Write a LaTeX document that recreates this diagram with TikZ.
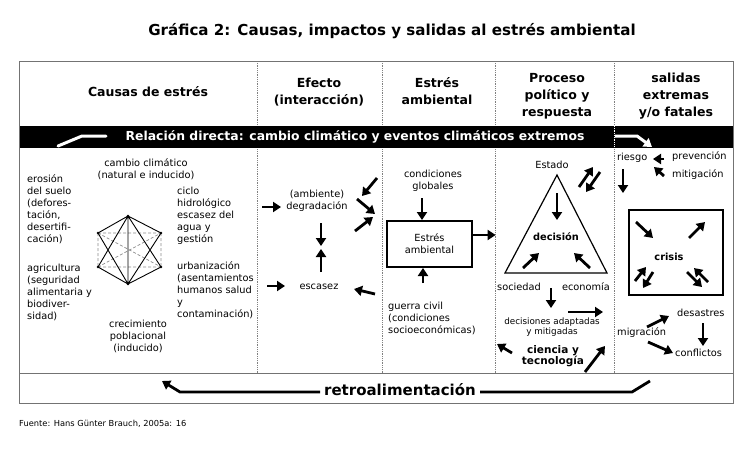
\documentclass[tikz,border=0pt]{standalone}
\usepackage{fontspec}
\setmainfont{DejaVu Sans}
\usetikzlibrary{arrows.meta}

\begin{document}
\begin{tikzpicture}[ >={Triangle[length=8pt,width=10pt]}, x=1pt, y=-1pt,
  flecha/.style={->, line width=2.8pt},
  texto/.style={font=\fontsize{9.8}{12}\selectfont, align=left, inner sep=0pt, anchor=north west},
  centro/.style={texto, align=center, anchor=north},
  suelto/.style={texto, anchor=west},
  negrita/.style={font=\bfseries\fontsize{9.8}{11}\selectfont, align=center, inner sep=0pt},
  encabezado/.style={font=\bfseries\fontsize{12.5}{17}\selectfont, align=center, inner sep=0pt},
  marco/.style={draw=black!55, line width=1pt},
  division/.style={draw=black!50, line width=0.8pt, densely dotted},
  caja/.style={draw, line width=1.2pt} ]

\useasboundingbox (0,0) rectangle (750,448);

\node[font=\bfseries\fontsize{15.1}{17}\selectfont] (titulo) at (392,31) {Gráfica 2: Causas, impactos y salidas al estrés ambiental};

\foreach \x in {257,382,495,614} \draw[division] (\x,61) -- (\x,373);
\fill (19,126) rectangle (733,148);
\draw[white, line width=0.8pt, densely dotted] (614,126) -- (614,148);
\draw[marco] (19,61) rectangle (733,403);
\draw[marco] (19,373) -- (733,373);

\node[encabezado] (causas) at (148,92) {Causas de estrés};
\node[encabezado] (efecto) at (319,92) {Efecto\\(interacción)};
\node[encabezado] (estresh) at (437,91) {Estrés\\ambiental};
\node[encabezado] (proceso) at (557,96) {Proceso\\político y\\respuesta};
\node[encabezado] (salidas) at (676,96) {salidas\\extremas\\y/o fatales};

\node[white, font=\bfseries\fontsize{12.4}{14}\selectfont] (relacion) at (355,137) {Relación directa: cambio climático y eventos climáticos extremos};
\draw[white, line width=3pt, line cap=round] (58,146) -- (82,136) -- (106,136);
\draw[white, line width=3pt, ->] (615,136) -- (637,136) -- (652,147);

\node[centro] (cambio) at (146,158) {cambio climático\\(natural e inducido)};
\node[texto] (erosion) at (27,174) {erosión\\del suelo\\(defores-\\tación,\\desertifi-\\cación)};
\node[texto] (ciclo) at (177,187) {ciclo\\hidrológico\\escasez del\\agua y\\gestión};
\node[texto] (agricultura) at (27,264) {agricultura\\(seguridad\\alimentaria y\\biodiver-\\sidad)};
\node[texto] (urbanizacion) at (177,261) {urbanización\\(asentamientos\\humanos salud\\y\\contaminación)};
\node[centro] (crecimiento) at (138,320) {crecimiento\\poblacional\\(inducido)};

\coordinate (ht) at (128,216);
\coordinate (hur) at (161,233);
\coordinate (hlr) at (161,267);
\coordinate (hb) at (128,284);
\coordinate (hll) at (98,267);
\coordinate (hul) at (98,233);
\draw[black!45, densely dashed, line width=0.7pt] (hul) -- (hll) (hur) -- (hlr) (hul) -- (hur) (hll) -- (hlr) (hul) -- (hlr) (hll) -- (hur);
\draw[line width=0.9pt] (hul) -- (ht) -- (hur) (hll) -- (hb) -- (hlr) (hll) -- (ht) -- (hlr) (hul) -- (hb) -- (hur) (ht) -- (hb);
\foreach \p in {ht,hur,hlr,hb,hll,hul} \fill (\p) circle (1.3pt);

\node[centro] (degradacion) at (317,190) {(ambiente)\\degradación};
\node[suelto, anchor=center] (escasez) at (319,287) {escasez};
\draw[flecha] (262,207) -- (281,207);
\draw[flecha] (321,223) -- (321,246);
\draw[flecha] (321,272) -- (321,249);
\draw[flecha] (267,286) -- (285,286);
\draw[flecha] (375,294) -- (354,289);
\draw[flecha] (377,178) -- (362,196);
\draw[flecha] (357,199) -- (375,214);
\draw[flecha] (355,231) -- (373,217);

\node[centro] (globales) at (433,170) {condiciones\\globales};
\node[caja, minimum width=85pt, minimum height=46pt, align=center, font=\fontsize{9.8}{12}\selectfont] (estres) at (429.5,244) {Estrés\\ambiental};
\node[texto] (guerra) at (388,302) {guerra civil\\(condiciones\\socioeconómicas)};
\draw[flecha] (422,198) -- (422,220);
\draw[flecha] (423,283) -- (423,268);
\draw[flecha] ([yshift=9pt]estres.east) -- ++(23,0);

\node[suelto, anchor=center] (estado) at (552,165) {Estado};
\draw[caja] (557,175) -- (505,273) -- (607,273) -- cycle;
\node[negrita] (decision) at (556,237) {decisión};
\node[suelto, anchor=center] (sociedad) at (519,287) {sociedad};
\node[suelto, anchor=center] (economia) at (586,287) {economía};
\node[centro, font=\fontsize{8.8}{10}\selectfont] (decisiones) at (552,318) {decisiones adaptadas\\y mitigadas};
\node[negrita, font=\bfseries\fontsize{10.5}{11}\selectfont] (ciencia) at (553,356.5) {ciencia y\\tecnología};
\draw[flecha] (557,193) -- (557,220);
\draw[flecha] (523,268) -- (539,253);
\draw[flecha] (590,268) -- (574,253);
\draw[flecha] (579,187) -- (593,167);
\draw[flecha] (600,172) -- (586,192);
\draw[flecha] (551,288) -- (551,308);
\draw[flecha] (568,312) -- (603,312);
\draw[flecha] (512,353) -- (497,344);
\draw[flecha] (585,372) -- (605,346);

\node[suelto] (riesgo) at (617,158) {riesgo};
\node[suelto] (prevencion) at (672,157) {prevención};
\node[suelto] (mitigacion) at (672,175) {mitigación};
\draw[caja] (629,210) rectangle (723,295);
\node[negrita] (crisis) at (669,257) {crisis};
\node[suelto] (desastres) at (677,313) {desastres};
\node[suelto] (migracion) at (617,333) {migración};
\node[suelto] (conflictos) at (675,353) {conflictos};
\draw[flecha] (664,159) -- (653,159);
\draw[flecha] (664,176) -- (654,167);
\draw[flecha] (623,169) -- (623,193);
\draw[flecha] (636,222) -- (653,238);
\draw[flecha] (689,238) -- (705,222);
\draw[flecha] (635,281) -- (646,267);
\draw[flecha] (653,272) -- (643,288);
\draw[flecha] (687,272) -- (702,287);
\draw[flecha] (708,282) -- (694,268);
\draw[flecha] (647,327) -- (669,316);
\draw[flecha] (648,342) -- (673,353);
\draw[flecha] (703,323) -- (703,346);

\node[font=\bfseries\fontsize{15}{17}\selectfont] (retro) at (400,390) {retroalimentación};
\draw[flecha] (320,392) -- (180,392) -- (162,381);
\draw[line width=2.8pt] (480,392) -- (632,392) -- (650,381);

\node[anchor=west, inner sep=0pt, font=\fontsize{8.3}{10}\selectfont] (fuente) at (19,424) {Fuente: Hans Günter Brauch, 2005a: 16};

\end{tikzpicture}
\end{document}
